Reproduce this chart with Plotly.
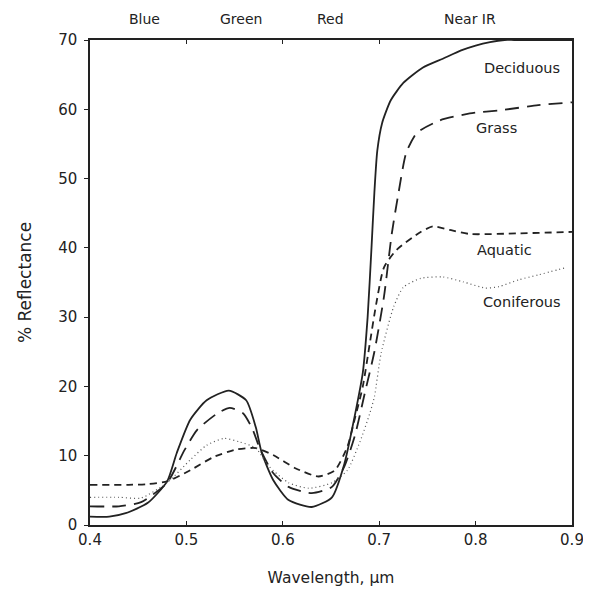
import plotly.graph_objects as go

# ---- data ----
wl_deciduous = [0.40, 0.42, 0.437, 0.46, 0.48, 0.49, 0.504, 0.521, 0.544, 0.562, 0.572, 0.578,
                0.59, 0.606, 0.63, 0.651, 0.664, 0.675, 0.683, 0.688, 0.692, 0.695, 0.698,
                0.703, 0.712, 0.725, 0.745, 0.766, 0.785, 0.80, 0.815, 0.83, 0.84, 0.90]
refl_deciduous = [1.2, 1.2, 1.7, 3.2, 6.3, 10.4, 15.2, 18.0, 19.4, 18.0, 14.1, 10.5,
                  6.5, 3.6, 2.6, 4.0, 8.9, 16.0, 22.0, 30.0, 40.0, 48.0, 54.0,
                  58.0, 61.3, 63.8, 66.0, 67.3, 68.5, 69.2, 69.7, 70.0, 70.0, 70.0]

wl_grass = [0.40, 0.43, 0.453, 0.48, 0.498, 0.511, 0.532, 0.545, 0.559, 0.569, 0.576,
            0.59, 0.606, 0.63, 0.651, 0.664, 0.675, 0.685, 0.695, 0.705, 0.713, 0.72,
            0.728, 0.739, 0.763, 0.794, 0.828, 0.865, 0.90]
refl_grass = [2.7, 2.7, 3.3, 6.1, 10.8, 13.7, 16.1, 16.9, 16.1, 13.7, 11.1,
              7.5, 5.5, 4.6, 5.5, 8.5, 13.0, 19.0, 25.0, 33.0, 42.0, 47.9,
              53.7, 56.6, 58.4, 59.4, 59.9, 60.6, 61.0]

wl_aquatic = [0.40, 0.44, 0.46, 0.48, 0.504, 0.528, 0.552, 0.572, 0.59, 0.613, 0.637,
              0.654, 0.667, 0.675, 0.683, 0.69, 0.697, 0.705, 0.718, 0.743, 0.756,
              0.773, 0.794, 0.845, 0.90]
refl_aquatic = [5.8, 5.8, 5.9, 6.3, 7.9, 9.8, 10.9, 11.1, 10.1, 8.2, 7.0,
                7.9, 11.3, 15.5, 20.0, 26.0, 32.0, 37.2, 39.7, 42.3, 43.1,
                42.6, 42.0, 42.1, 42.3]

wl_coniferous = [0.40, 0.43, 0.453, 0.48, 0.504, 0.521, 0.539, 0.555, 0.572, 0.586, 0.606,
                 0.627, 0.651, 0.667, 0.68, 0.69, 0.695, 0.702, 0.715, 0.725, 0.743,
                 0.766, 0.787, 0.81, 0.824, 0.845, 0.865, 0.895]
refl_coniferous = [4.0, 4.0, 3.9, 6.1, 9.4, 11.5, 12.5, 12.0, 11.1, 8.4, 6.1,
                   5.3, 6.1, 7.9, 12.0, 16.0, 18.5, 24.8, 31.5, 34.3, 35.6,
                   35.8, 35.1, 34.2, 34.4, 35.4, 36.1, 37.2]

band_names = ["Blue", "Green", "Red", "Near IR"]
band_centers = [0.457, 0.557, 0.649, 0.794]
band_edges = [0.5, 0.6, 0.7]

curve_labels = ["Deciduous", "Grass", "Aquatic", "Coniferous"]
label_x = [0.848, 0.822, 0.83, 0.848]
label_y = [66.0, 57.3, 39.7, 32.2]

INK = "#222222"
FONT = "DejaVu Sans"

fig = go.Figure()
fig.add_trace(go.Scatter(x=wl_deciduous, y=refl_deciduous, mode="lines",
                         line=dict(color=INK, width=1.8, shape="spline", smoothing=0.6)))
fig.add_trace(go.Scatter(x=wl_grass, y=refl_grass, mode="lines",
                         line=dict(color=INK, width=1.8, dash="14px,8px", shape="spline", smoothing=0.6)))
fig.add_trace(go.Scatter(x=wl_aquatic, y=refl_aquatic, mode="lines",
                         line=dict(color=INK, width=1.8, dash="7px,5px", shape="spline", smoothing=0.6)))
fig.add_trace(go.Scatter(x=wl_coniferous, y=refl_coniferous, mode="lines",
                         line=dict(color="#555555", width=1.2, dash="1px,3px", shape="spline", smoothing=0.6)))
# invisible trace to hold the top axis
fig.add_trace(go.Scatter(x=[0.4, 0.9], y=[0, 0], xaxis="x2", mode="markers",
                         marker=dict(opacity=0), hoverinfo="skip"))

for name, cx, cy in zip(curve_labels, label_x, label_y):
    fig.add_annotation(x=cx, y=cy, text=name, showarrow=False,
                       font=dict(family=FONT, size=14.5, color=INK))

for name, cx in zip(band_names, band_centers):
    fig.add_annotation(x=cx, y=1.0, xref="x", yref="paper", yanchor="bottom", yshift=11,
                       text=name, showarrow=False, font=dict(family=FONT, size=14, color=INK))

# page body adds an 8px offset; figure is sized so the plot area lands where the reference has it
fig.update_layout(
    width=583, height=586,
    margin=dict(l=82, r=19, t=32, b=69, autoexpand=False),
    paper_bgcolor="white", plot_bgcolor="white",
    showlegend=False,
    font=dict(family=FONT, size=15, color=INK),
    xaxis=dict(range=[0.4, 0.9], tickvals=[0.4, 0.5, 0.6, 0.7, 0.8, 0.9],
               ticktext=["0.4", "0.5", "0.6", "0.7", "0.8", "0.9"],
               showgrid=False, zeroline=False, showline=True, linecolor=INK, linewidth=1.5,
               mirror=True, ticks="inside", ticklen=4, tickcolor=INK, automargin=False,
               title=dict(text="Wavelength, µm", standoff=24, font=dict(size=15.5))),
    xaxis2=dict(range=[0.4, 0.9], overlaying="x", side="top", tickvals=band_edges,
                showticklabels=False, ticks="inside", ticklen=4, tickcolor=INK,
                showgrid=False, zeroline=False, showline=False, automargin=False),
    yaxis=dict(range=[0, 70], tickvals=[0, 10, 20, 30, 40, 50, 60, 70],
               showgrid=False, zeroline=False, showline=True, linecolor=INK, linewidth=1.5,
               mirror=True, ticks="outside", ticklen=4, tickcolor=INK, automargin=False,
               ticklabelstandoff=4,
               title=dict(text="% Reflectance", standoff=22, font=dict(size=17))),
)

fig.write_html("out.html")
